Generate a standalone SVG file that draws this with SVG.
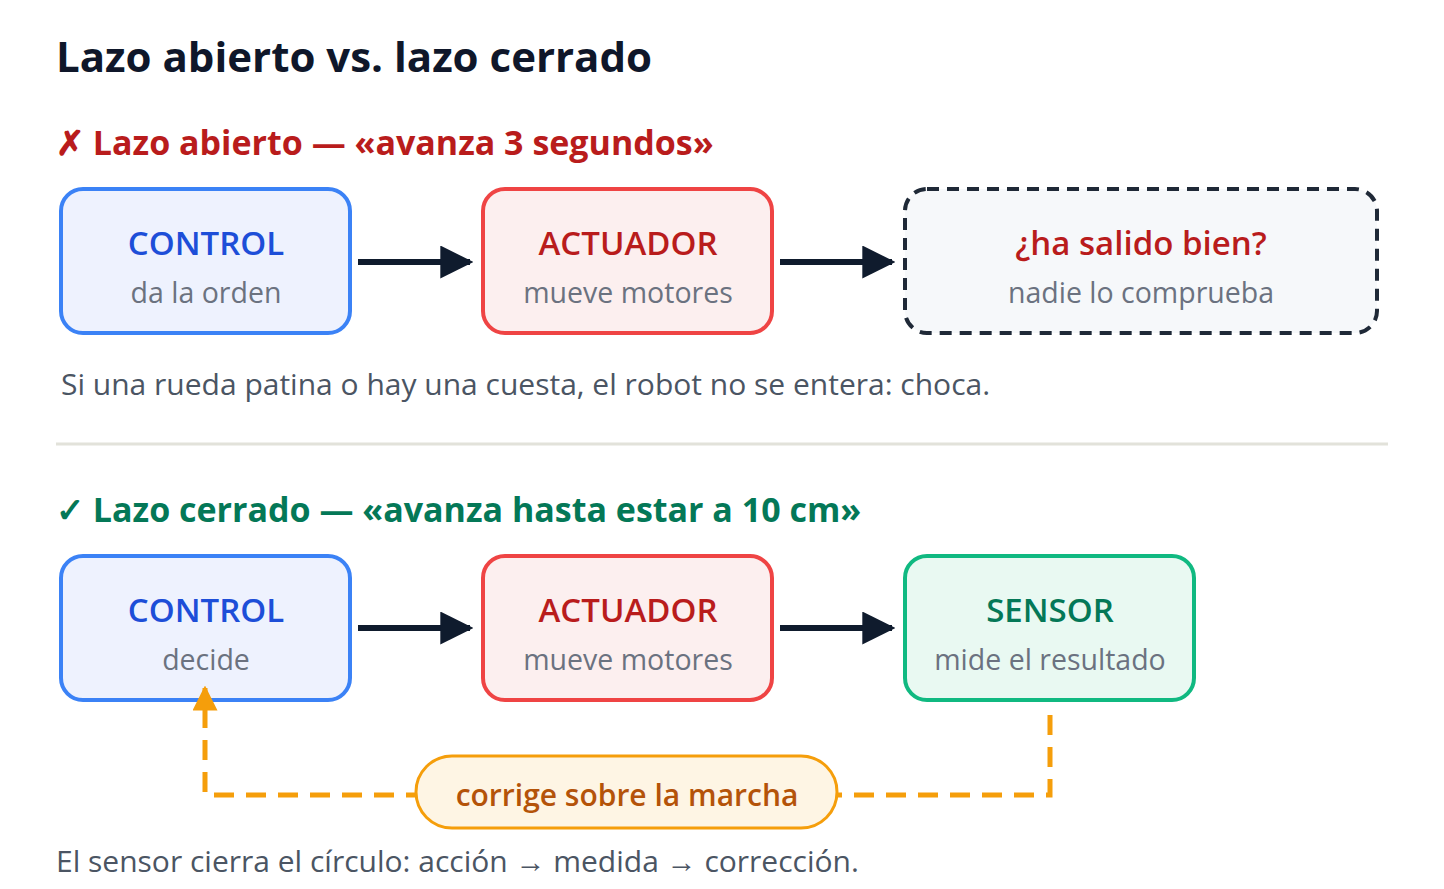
<svg xmlns="http://www.w3.org/2000/svg" width="1444" height="889" viewBox="0 0 1444 889">
<style>
text{font-family:"Open Sans","Noto Sans",sans-serif}
.t{font-size:33px;text-anchor:middle;font-weight:600}
.s{font-size:28.5px;text-anchor:middle;fill:#6b7280}
.blue rect{fill:#eef2fe;stroke:#3b82f6;stroke-width:4}
.red rect{fill:#fcefef;stroke:#ef4444;stroke-width:4}
.arr{stroke:#0f1b2d;stroke-width:6;fill:none}
</style>
<defs>
<marker id="ah" viewBox="0 0 10 10" refX="9" refY="5" markerWidth="5.5" markerHeight="5.5" orient="auto"><path d="M0,0L10,5L0,10z" fill="#0f1b2d"/></marker>
<marker id="oh" viewBox="0 0 10 10" refX="9" refY="5" markerWidth="5" markerHeight="5" orient="auto"><path d="M0,0L10,5L0,10z" fill="#f59e0b"/></marker>
</defs>
<rect width="1444" height="889" fill="#fff"/>
<text x="56" y="72" font-size="42" font-weight="bold" fill="#0f172a">Lazo abierto vs. lazo cerrado</text>
<text x="56" y="155" font-size="34" font-weight="bold" fill="#b91c1c">✗ Lazo abierto — «avanza 3 segundos»</text>
<g id="c1" class="blue"><rect x="61" y="189" width="289" height="144" rx="22"/><text class="t" x="206" y="255" fill="#1d4ed8">CONTROL</text><text class="s" x="206" y="303">da la orden</text></g>
<g id="a1" class="red"><rect x="483" y="189" width="289" height="144" rx="22"/><text class="t" x="628" y="255" fill="#b91c1c">ACTUADOR</text><text class="s" x="628" y="303">mueve motores</text></g>
<g id="q1"><rect x="905" y="189" width="472" height="144" rx="22" fill="#f6f8fa" stroke="#1f2937" stroke-width="4" stroke-dasharray="12 8"/><text class="t" x="1141" y="255" fill="#b91c1c">¿ha salido bien?</text><text class="s" x="1141" y="303">nadie lo comprueba</text></g>
<text x="61" y="395" font-size="30" fill="#4b5563">Si una rueda patina o hay una cuesta, el robot no se entera: choca.</text>
<line x1="56" y1="444" x2="1388" y2="444" stroke="#e2e2da" stroke-width="3"/>
<text x="56" y="522" font-size="34" font-weight="bold" fill="#047857">✓ Lazo cerrado — «avanza hasta estar a 10 cm»</text>
<g id="c2" class="blue"><rect x="61" y="556" width="289" height="144" rx="22"/><text class="t" x="206" y="622" fill="#1d4ed8">CONTROL</text><text class="s" x="206" y="670">decide</text></g>
<g id="a2" class="red"><rect x="483" y="556" width="289" height="144" rx="22"/><text class="t" x="628" y="622" fill="#b91c1c">ACTUADOR</text><text class="s" x="628" y="670">mueve motores</text></g>
<g id="s2"><rect x="905" y="556" width="289" height="144" rx="22" fill="#e9f9f2" stroke="#10b981" stroke-width="4"/><text class="t" x="1050" y="622" fill="#047857">SENSOR</text><text class="s" x="1050" y="670">mide el resultado</text></g>
<g id="connectors">
<line class="arr" x1="358" y1="262" x2="470" y2="262" marker-end="url(#ah)"/>
<line class="arr" x1="780" y1="262" x2="892" y2="262" marker-end="url(#ah)"/>
<line class="arr" x1="358" y1="628" x2="470" y2="628" marker-end="url(#ah)"/>
<line class="arr" x1="780" y1="628" x2="892" y2="628" marker-end="url(#ah)"/>
<path d="M1050,715V795H205V688" fill="none" stroke="#f59e0b" stroke-width="5" stroke-dasharray="20 12" marker-end="url(#oh)"/>
</g>
<g id="lbl"><rect x="416" y="756" width="421" height="72" rx="36" fill="#fef5e4" stroke="#f59e0b" stroke-width="3"/><text x="627" y="806" font-size="30" font-weight="600" text-anchor="middle" fill="#b45309">corrige sobre la marcha</text></g>
<text x="56" y="872" font-size="30" fill="#4b5563">El sensor cierra el círculo: acción → medida → corrección.</text>
</svg>
